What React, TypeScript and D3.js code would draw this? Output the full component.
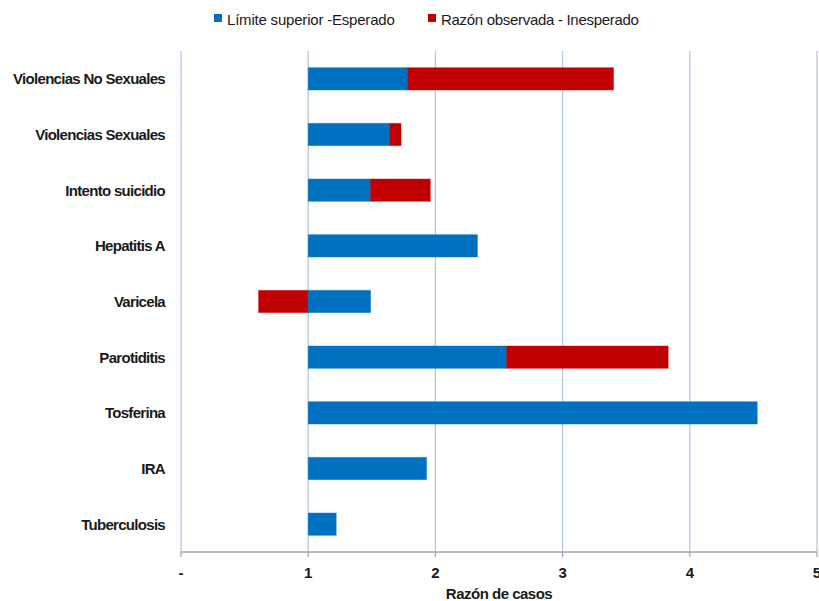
import React from "react";
import * as d3 from "d3";

const categories = [
  "Violencias No Sexuales",
  "Violencias Sexuales",
  "Intento suicidio",
  "Hepatitis A",
  "Varicela",
  "Parotiditis",
  "Tosferina",
  "IRA",
  "Tuberculosis",
];
// Límite superior (esperado) and razón observada
const limiteSuperior = [1.78, 1.64, 1.49, 2.33, 1.49, 2.56, 4.53, 1.93, 1.22];
const razonObservada: (number | null)[] = [3.40, 1.73, 1.96, null, 0.61, 3.83, null, null, null];
const xTicks = [0, 1, 2, 3, 4, 5];
const xTickLabels = ["-", "1", "2", "3", "4", "5"];
const seriesNames = ["Límite superior -Esperado", "Razón observada - Inesperado"];

const W = 819;
const H = 601;
const margin = { left: 181, right: 2, top: 51, bottom: 49 };
const BLUE = "#0070c0";
const RED = "#c00000";
const GRID = "#b4c7e7";
const FONT = "'Liberation Sans', Arial, sans-serif";

export default function App() {
  const x = d3.scaleLinear().domain([0, 5]).range([margin.left, W - margin.right]);
  const y = d3
    .scaleBand()
    .domain(categories)
    .range([margin.top, H - margin.bottom])
    .paddingInner(0.6)
    .paddingOuter(0.3);
  const axisY = H - margin.bottom;

  return (
    <svg
      width={W}
      height={H}
      style={{ position: "absolute", left: 0, top: 0, background: "#fff" }}
      fontFamily={FONT}
    >
      {/* gridlines */}
      {xTicks.map((t) => (
        <line key={"g" + t} x1={x(t)} x2={x(t)} y1={margin.top} y2={axisY} stroke={GRID} strokeWidth={1.3} />
      ))}
      {/* bars */}
      {categories.map((c, i) => {
        const lim = limiteSuperior[i];
        const obs = razonObservada[i];
        const yy = y(c)!;
        const h = y.bandwidth();
        const segs: { a: number; b: number; col: string }[] = [];
        if (obs !== null && obs < 1) {
          segs.push({ a: obs, b: 1, col: RED });
          segs.push({ a: 1, b: lim, col: BLUE });
        } else {
          segs.push({ a: 1, b: lim, col: BLUE });
          if (obs !== null && obs > lim) segs.push({ a: lim, b: obs, col: RED });
        }
        return (
          <g key={c}>
            {segs.map((s, j) => (
              <rect
                key={j}
                x={x(s.a)}
                y={yy}
                width={x(s.b) - x(s.a)}
                height={h}
                fill={s.col}
                stroke={s.col}
                strokeOpacity={0.45}
                strokeWidth={1}
              />
            ))}
            <text
              x={165}
              y={yy + h / 2}
              textAnchor="end"
              dominantBaseline="central"
              fontSize={15}
              fontWeight="bold"
              fill="#1a1a1a"
              style={{ letterSpacing: "-0.7px" }}
            >
              {c}
            </text>
          </g>
        );
      })}
      {/* x axis */}
      <line x1={x(0)} x2={x(5)} y1={axisY} y2={axisY} stroke="#a6a6a6" strokeWidth={1.3} />
      {xTicks.map((t, i) => (
        <g key={"t" + t}>
          <line x1={x(t)} x2={x(t)} y1={axisY} y2={axisY + 5} stroke="#a6a6a6" strokeWidth={1.3} />
          <text
            x={x(t)}
            y={axisY + 26}
            textAnchor="middle"
            fontSize={15}
            fontWeight="bold"
            fill="#1a1a1a"
          >
            {xTickLabels[i]}
          </text>
        </g>
      ))}
      <text x={499} y={599} textAnchor="middle" fontSize={15} fontWeight="bold" fill="#1a1a1a" style={{ letterSpacing: "-0.5px" }}>
        Razón de casos
      </text>
      {/* legend */}
      <rect x={214} y={14} width={8} height={8} fill={BLUE} />
      <text x={227} y={19} dominantBaseline="central" fontSize={15} fill="#1a1a1a" style={{ letterSpacing: "-0.2px" }}>
        {seriesNames[0]}
      </text>
      <rect x={428} y={14} width={8} height={8} fill={RED} />
      <text x={441} y={19} dominantBaseline="central" fontSize={15} fill="#1a1a1a" style={{ letterSpacing: "-0.3px" }}>
        {seriesNames[1]}
      </text>
    </svg>
  );
}
